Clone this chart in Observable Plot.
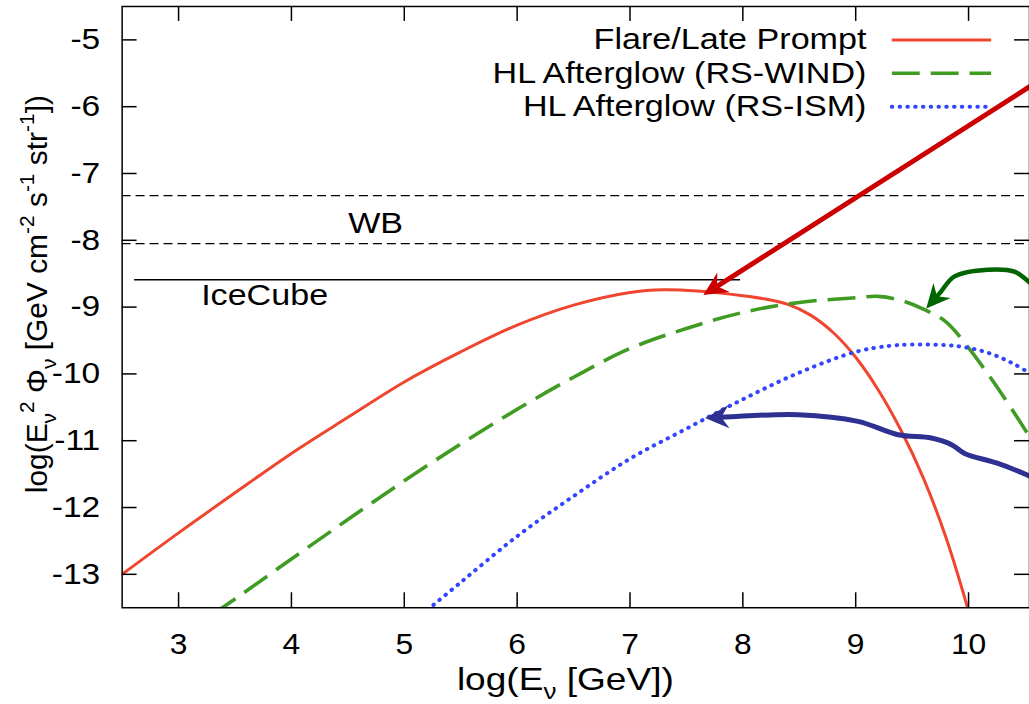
<!DOCTYPE html>
<html><head><meta charset="utf-8">
<script src="https://cdn.jsdelivr.net/npm/d3@7"></script>
<script src="https://cdn.jsdelivr.net/npm/@observablehq/plot@0.6"></script>
<style>
html,body{margin:0;padding:0;background:#fff;overflow:hidden;}
#chart{width:1029px;height:704px;overflow:hidden;position:relative;}
</style></head><body><div id="chart"></div>
<script>
// ---------- data ----------
const xTicks = [3, 4, 5, 6, 7, 8, 9, 10];
const yTicks = [-5, -6, -7, -8, -9, -10, -11, -12, -13];
const seriesNames = ["Flare/Late Prompt", "HL Afterglow (RS-WIND)", "HL Afterglow (RS-ISM)"];

const flareX = [2.5, 3, 3.5, 4, 4.5, 5, 5.5, 6, 6.5, 7, 7.3, 7.6, 8, 8.2, 8.4, 8.6, 8.8, 9.0, 9.2, 9.4, 9.6, 9.8, 10.0];
const flareY = [-13, -12.38, -11.78, -11.19, -10.65, -10.12, -9.67, -9.27, -8.97, -8.78, -8.74, -8.76, -8.83, -8.88, -8.96, -9.12, -9.38, -9.75, -10.24, -10.84, -11.56, -12.45, -13.55];

const windX = [3.3, 3.5, 4, 4.5, 5, 5.5, 6, 6.5, 7, 7.5, 8, 8.5, 9, 9.2, 9.4, 9.6, 9.8, 10, 10.2, 10.4, 10.6];
const windY = [-13.6, -13.37, -12.77, -12.18, -11.6, -11.05, -10.53, -10.05, -9.62, -9.32, -9.08, -8.93, -8.86, -8.84, -8.90, -9.03, -9.22, -9.61, -10.07, -10.57, -11.1];

const ismX = [5.1, 5.5, 6, 6.5, 7, 7.5, 8, 8.5, 9, 9.3, 9.5, 9.8, 10, 10.2, 10.4, 10.6];
const ismY = [-13.68, -13.12, -12.43, -11.83, -11.27, -10.82, -10.38, -9.98, -9.67, -9.58, -9.56, -9.57, -9.61, -9.70, -9.85, -10.05];

const wbLevels = [-7.33, -8.05];
const iceCubeLevel = -8.59;
const iceCubeRange = [2.61, 7.98];
const labelWB = {text: "WB", x: 4.746, y: -7.89};
const labelIceCube = {text: "IceCube", x: 3.2, y: -8.97};

// annotation arrows (data coordinates, last point = tip)
const redArrowX = [10.56, 7.65];
const redArrowY = [-5.68, -8.82];
const greenArrowX = [10.6, 10.515, 10.407, 10.17, 9.876, 9.75, 9.625];
const greenArrowY = [-8.72, -8.593, -8.469, -8.44, -8.54, -8.78, -9.02];
const blueArrowX = [10.6, 10.515, 10.26, 9.965, 9.85, 9.67, 9.375, 9.02, 8.49, 7.90, 7.665];
const blueArrowY = [-11.58, -11.51, -11.34, -11.19, -11.06, -10.96, -10.91, -10.71, -10.61, -10.64, -10.66];

// legend layout (data units)
const legendRowsY = [-5.0, -5.5, -6.0];
const legendTextX = 9.095;
const legendSampleX = [9.32, 10.2];

// ---------- layout / style ----------
const W = 1032, H = 704, mL = 122, mR = 0, mT = 6, mB = 95;
const xDomain = [2.5, 10.54], yDomain = [-13.5, -4.5];
const frameW = W - mL - mR, frameH = H - mT - mB;
const FONT = "'Liberation Sans', Arial, Helvetica, sans-serif";
const colors = ["#f0452f", "#3f9b22", "#3344ff"];
const dashes = [null, "28,11", "0.5,7.3"];
const widths = [3, 3.6, 4];
const caps = ["butt", "butt", "round"];

const xs = Plot.scale({x: {domain: xDomain, range: [mL, W - mR]}});
const ys = Plot.scale({y: {domain: yDomain, range: [H - mB, mT]}});

const pts = (X, Y) => X.map((x, i) => ({x, y: Y[i]}));

const HEAD = 24;
const arrowHead = {
  draw(ctx, size) {
    const r = Math.sqrt(size / Math.PI);
    const L = r, Wd = 0.48 * r, n = 0.68 * r;
    ctx.moveTo(0, 0);
    ctx.lineTo(-L, -Wd);
    ctx.lineTo(-n, 0);
    ctx.lineTo(-L, Wd);
    ctx.closePath();
  }
};
function arrowParts(X, Y) {
  const p = pts(X, Y);
  const tip = p[p.length - 1], prev = p[p.length - 2];
  const tx = xs.apply(tip.x), ty = ys.apply(tip.y);
  const px = xs.apply(prev.x), py = ys.apply(prev.y);
  const ang = Math.atan2(ty - py, tx - px);
  const back = HEAD * 0.6;
  const bx = tx - back * Math.cos(ang), by = ty - back * Math.sin(ang);
  const shaft = p.slice(0, -1).concat([{x: xs.invert(bx), y: ys.invert(by)}]);
  return {shaft, head: [{x: tip.x, y: tip.y, a: ang * 180 / Math.PI}]};
}
const redA = arrowParts(redArrowX, redArrowY);
const greenA = arrowParts(greenArrowX, greenArrowY);
const blueA = arrowParts(blueArrowX, blueArrowY);
const arrowColors = ["#cc0000", "#006400", "#2e3192"];
const arrowWidths = [5, 4.5, 5];

const series = [pts(flareX, flareY), pts(windX, windY), pts(ismX, ismY)];

const marks = [
  Plot.ruleY(wbLevels, {stroke: "#000", strokeWidth: 1.3, strokeDasharray: "9,5"}),
  Plot.ruleY([{y: iceCubeLevel, x1: iceCubeRange[0], x2: iceCubeRange[1]}], {y: "y", x1: "x1", x2: "x2", stroke: "#000", strokeWidth: 1.5}),
  Plot.text([labelWB], {x: "x", y: "y", text: "text", textAnchor: "middle", lineAnchor: "bottom", fontSize: 30, fill: "#000"}),
  Plot.text([labelIceCube], {x: "x", y: "y", text: "text", textAnchor: "start", lineAnchor: "bottom", fontSize: 30, fill: "#000"}),
];
series.forEach((s, i) => {
  marks.push(Plot.line(s, {x: "x", y: "y", stroke: colors[i], strokeWidth: widths[i], strokeDasharray: dashes[i], strokeLinecap: caps[i], curve: "catmull-rom", clip: true}));
});
[[redA, "linear"], [greenA, "catmull-rom"], [blueA, "catmull-rom"]].forEach(([a, c], i) => {
  marks.push(Plot.line(a.shaft, {x: "x", y: "y", stroke: arrowColors[i], strokeWidth: arrowWidths[i], curve: c, clip: true}));
  marks.push(Plot.dot(a.head, {x: "x", y: "y", rotate: "a", symbol: arrowHead, r: HEAD, fill: arrowColors[i], stroke: "none"}));
});
// legend
seriesNames.forEach((name, i) => {
  marks.push(Plot.text([name], {x: legendTextX, y: legendRowsY[i], text: (d) => d, textAnchor: "end", fontSize: 30, fill: "#000"}));
  marks.push(Plot.line(legendSampleX.map((x) => ({x, y: legendRowsY[i]})), {x: "x", y: "y", stroke: colors[i], strokeWidth: widths[i], strokeDasharray: dashes[i], strokeLinecap: caps[i]}));
});
// inward ticks on all sides
marks.push(
  Plot.tickY(yTicks, {y: (d) => d, insetRight: frameW - 15, stroke: "#000", strokeWidth: 1.5}),
  Plot.tickY(yTicks, {y: (d) => d, insetLeft: frameW - 15, stroke: "#000", strokeWidth: 1.5}),
  Plot.tickX(xTicks, {x: (d) => d, insetBottom: frameH - 15, stroke: "#000", strokeWidth: 1.5}),
  Plot.tickX(xTicks, {x: (d) => d, insetTop: frameH - 15, stroke: "#000", strokeWidth: 1.5}),
  Plot.frame({stroke: "#000", strokeWidth: 1.5}),
  Plot.axisY(yTicks, {tickSize: 0, tickPadding: 22, tickFormat: (d) => String(d), label: null, fontSize: 29}),
  Plot.axisX(xTicks, {tickSize: 0, tickPadding: 26, tickFormat: (d) => String(d), label: null, fontSize: 29})
);

const plot = Plot.plot({
  width: W, height: H,
  marginLeft: mL, marginRight: mR, marginTop: mT, marginBottom: mB,
  x: {domain: xDomain}, y: {domain: yDomain},
  style: {fontFamily: FONT, fontSize: "29px", background: "#fff", color: "#000", overflow: "visible"},
  marks
});
document.getElementById("chart").appendChild(plot);

// axis titles with sub/superscripts
function richText(g, parts, fs) {
  const t = g.append("text").attr("font-family", FONT).attr("font-size", fs).attr("fill", "#000");
  let cur = 0;
  for (const p of parts) {
    const target = p.s === "sub" ? 0.3 * fs : p.s === "sup" ? -0.42 * fs : 0;
    const ts = t.append("tspan").text(p.t).attr("dy", target - cur);
    if (p.s) ts.attr("font-size", fs * 0.7);
    cur = target;
  }
  return t;
}
const svg = d3.select(plot);
const yl = svg.append("g").attr("transform", `translate(47,295) rotate(-90)`);
richText(yl, [
  {t: "log(E"}, {t: "ν", s: "sub"}, {t: "2", s: "sup"}, {t: " Φ"}, {t: "ν", s: "sub"},
  {t: " [GeV cm"}, {t: "-2", s: "sup"}, {t: " s"}, {t: "-1", s: "sup"}, {t: " str"}, {t: "-1", s: "sup"}, {t: "])"}
], 30).attr("text-anchor", "middle");
const xl = svg.append("g").attr("transform", `translate(567,692)`);
const xlt = richText(xl, [{t: "log(E"}, {t: "ν", s: "sub"}, {t: " [GeV])"}], 31).attr("text-anchor", "middle");

// the reference's lettering is horizontally widened: stretch text glyphs
function stretch(el, k) {
  const L = el.getComputedTextLength();
  el.setAttribute("textLength", L * k);
  el.setAttribute("lengthAdjust", "spacingAndGlyphs");
}
svg.selectAll('g[aria-label="text"] text').each(function() { stretch(this, 1.14); });
svg.selectAll('g[aria-label="y-axis tick label"] text').each(function() { stretch(this, 1.16); });
svg.selectAll('g[aria-label="x-axis tick label"] text').each(function() { stretch(this, 1.1); });
stretch(xlt.node(), 1.2);
</script></body></html>
